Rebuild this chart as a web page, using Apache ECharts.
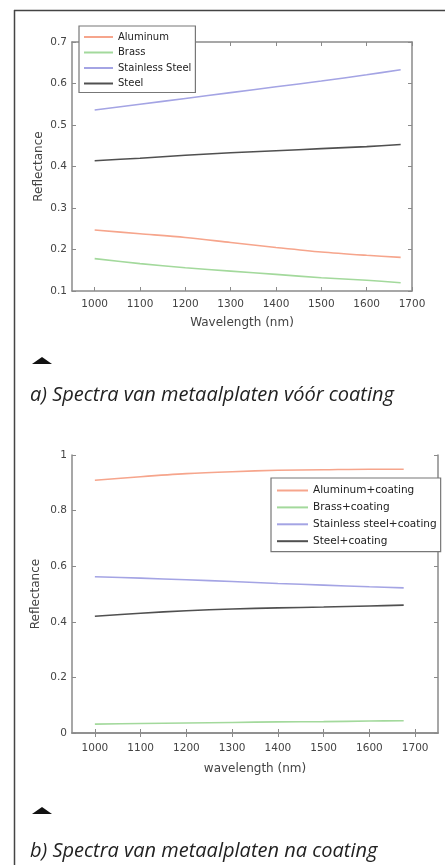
<!DOCTYPE html>
<html>
<head>
<meta charset="utf-8">
<script src="https://cdn.jsdelivr.net/npm/echarts@6/dist/echarts.min.js"></script>
<style>
  html, body { margin: 0; padding: 0; background: #fff; }
  #main { width: 445px; height: 865px; }
</style>
</head>
<body>
<div id="main"></div>
<script>
var myChart = echarts.init(document.getElementById('main'));

// wavelength samples (nm)
var wavelength = [1000, 1100, 1200, 1300, 1400, 1500, 1600, 1675];
var xTicks = [1000, 1100, 1200, 1300, 1400, 1500, 1600, 1700];

// a) before coating
var aluminum  = [0.247, 0.238, 0.229, 0.217, 0.205, 0.194, 0.186, 0.181];
var brass     = [0.178, 0.166, 0.156, 0.148, 0.140, 0.132, 0.126, 0.120];
var stainless = [0.536, 0.550, 0.564, 0.578, 0.592, 0.606, 0.621, 0.633];
var steel     = [0.414, 0.420, 0.427, 0.433, 0.438, 0.443, 0.448, 0.453];

// b) after coating
var aluminumC  = [0.909, 0.922, 0.933, 0.940, 0.945, 0.947, 0.949, 0.949];
var brassC     = [0.032, 0.034, 0.036, 0.038, 0.040, 0.041, 0.043, 0.044];
var stainlessC = [0.562, 0.557, 0.551, 0.545, 0.538, 0.532, 0.526, 0.522];
var steelC     = [0.420, 0.431, 0.440, 0.446, 0.450, 0.453, 0.457, 0.460];

var colors = ['#f6a58c', '#a3d99c', '#a4a4e4', '#505050'];

function pairs(ys) {
  return wavelength.map(function (w, i) { return [w, ys[i]]; });
}

var axisCol = '#8a8a8a';
var font = 'DejaVu Sans, sans-serif';
var labelStyle = { color: '#444', fontSize: 10.5, fontFamily: font };
var nameStyle = { color: '#444', fontSize: 12, fontFamily: font };

function xAxisPair(gi, min, max, name, gap, margin) {
  return [{
    gridIndex: gi, type: 'value', min: min, max: max, position: 'bottom',
    name: name, nameLocation: 'middle', nameGap: gap,
    nameTextStyle: nameStyle,
    axisLine: { lineStyle: { color: axisCol, width: 1.5 } },
    axisTick: { inside: true, length: 4, customValues: xTicks, lineStyle: { color: axisCol } },
    axisLabel: Object.assign({ customValues: xTicks, margin: margin, formatter: function (v) { return String(v); } }, labelStyle),
    splitLine: { show: false }
  }, {
    gridIndex: gi, type: 'value', min: min, max: max, position: 'top',
    axisLine: { lineStyle: { color: axisCol, width: 1.5 } },
    axisTick: { inside: true, length: 4, customValues: xTicks, lineStyle: { color: axisCol } },
    axisLabel: { show: false },
    splitLine: { show: false }
  }];
}

function yAxisPair(gi, min, max, step, gap, fmt) {
  return [{
    gridIndex: gi, type: 'value', min: min, max: max, interval: step, position: 'left',
    name: 'Reflectance', nameLocation: 'middle', nameGap: gap, nameMoveOverlap: false,
    nameTextStyle: nameStyle,
    axisLine: { show: true, lineStyle: { color: axisCol, width: 1.5 } },
    axisTick: { show: true, inside: true, length: 4, lineStyle: { color: axisCol } },
    axisLabel: Object.assign({ margin: 5, formatter: fmt }, labelStyle),
    splitLine: { show: false }
  }, {
    gridIndex: gi, type: 'value', min: min, max: max, interval: step, position: 'right',
    axisLine: { show: true, lineStyle: { color: axisCol, width: 1.5 } },
    axisTick: { show: true, inside: true, length: 4, lineStyle: { color: axisCol } },
    axisLabel: { show: false },
    splitLine: { show: false }
  }];
}

function line(name, ys, ci, xi, yi) {
  return {
    name: name, type: 'line', data: pairs(ys), xAxisIndex: xi, yAxisIndex: yi,
    symbol: 'none', smooth: 0.3,
    lineStyle: { color: colors[ci], width: 1.6 },
    itemStyle: { color: colors[ci] }
  };
}

option = {
  animation: false,
  grid: [
    { left: 72, top: 42, width: 340, height: 249 },
    { left: 72, top: 455, width: 366, height: 278 }
  ],
  xAxis: xAxisPair(0, 950, 1700, 'Wavelength (nm)', 26, 8)
    .concat(xAxisPair(1, 950, 1750, 'wavelength (nm)', 30, 10)),
  yAxis: yAxisPair(0, 0.1, 0.7, 0.1, 27, function (v) { return v.toFixed(1); })
    .concat(yAxisPair(1, 0, 1, 0.2, 30, function (v) { return v === 0 || v === 1 ? String(v) : v.toFixed(1); })),
  legend: [{
    data: ['Aluminum', 'Brass', 'Stainless Steel', 'Steel'],
    orient: 'vertical', left: 79, top: 26,
    itemWidth: 29, itemHeight: 10, itemGap: 5.5,
    padding: [6, 4, 4, 4],
    itemStyle: { opacity: 0 },
    backgroundColor: '#fff', borderColor: '#777', borderWidth: 1.2,
    textStyle: { color: '#222', fontSize: 10, fontFamily: font }
  }, {
    data: ['Aluminum+coating', 'Brass+coating', 'Stainless steel+coating', 'Steel+coating'],
    orient: 'vertical', left: 271, top: 478,
    itemWidth: 31, itemHeight: 10, itemGap: 5.9,
    padding: [7, 4, 5, 5],
    itemStyle: { opacity: 0 },
    backgroundColor: '#fff', borderColor: '#777', borderWidth: 1.2,
    textStyle: { color: '#222', fontSize: 10.5, fontFamily: font }
  }],
  series: [
    line('Aluminum', aluminum, 0, 0, 0),
    line('Brass', brass, 1, 0, 0),
    line('Stainless Steel', stainless, 2, 0, 0),
    line('Steel', steel, 3, 0, 0),
    line('Aluminum+coating', aluminumC, 0, 2, 2),
    line('Brass+coating', brassC, 1, 2, 2),
    line('Stainless steel+coating', stainlessC, 2, 2, 2),
    line('Steel+coating', steelC, 3, 2, 2)
  ],
  graphic: [
    // page frame
    { type: 'line', shape: { x1: 14.5, y1: 10, x2: 14.5, y2: 865 }, style: { stroke: '#444', lineWidth: 1.5 } },
    { type: 'line', shape: { x1: 14, y1: 10.5, x2: 445, y2: 10.5 }, style: { stroke: '#444', lineWidth: 1.5 } },
    // captions
    { type: 'polygon', shape: { points: [[32, 364], [52, 364], [42, 357]] }, style: { fill: '#111' } },
    { type: 'text', left: 30, top: 385, style: { text: 'a) Spectra van metaalplaten vóór coating', fill: '#222', font: 'italic 20px "Open Sans", sans-serif' } },
    { type: 'polygon', shape: { points: [[32, 814], [52, 814], [42, 807]] }, style: { fill: '#111' } },
    { type: 'text', left: 30, top: 841, style: { text: 'b) Spectra van metaalplaten na coating', fill: '#222', font: 'italic 20px "Open Sans", sans-serif' } }
  ]
};

myChart.setOption(option);
</script>
</body>
</html>
